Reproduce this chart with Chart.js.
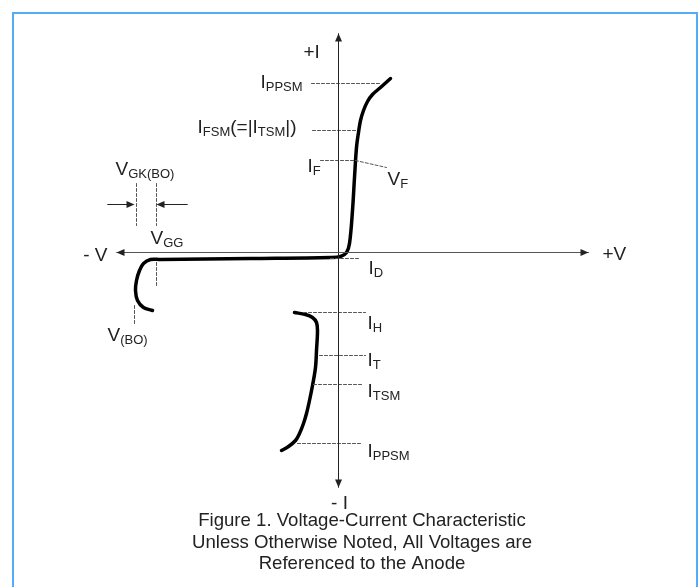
<!DOCTYPE html>
<html>
<head>
<meta charset="utf-8">
<script src="https://cdn.jsdelivr.net/npm/chart.js@4/dist/chart.umd.min.js"></script>
<style>
  body { margin: 0; background: #fff; }
  #wrap { position: relative; width: 700px; height: 587px; overflow: hidden; }
  #frame { position: absolute; left: 12px; top: 12px; width: 682px; height: 620px; border: 2px solid #55acf5; }
  canvas { position: absolute; left: 0; top: 0; }
</style>
</head>
<body>
<div id="wrap">
  <div id="frame"></div>
  <canvas id="ivChart" width="700" height="587"></canvas>
</div>
<script>
// V-I characteristic (arbitrary diagram units, origin at the axes crossing)
const onStateV = [-186, -195, -201, -203, -202, -199, -195, -188, -178, -88, -8, 2, 8, 11, 14, 16, 18, 20, 22, 25, 29, 34, 42, 52];
const onStateI = [-58, -55, -48, -38, -28, -18, -11, -7, -7, -6, -5, -4, 0, 9, 42, 75, 105, 120, 132, 142, 151, 158, 165, 174];

const holdV = [-44, -33, -26, -22, -21, -22, -23, -26, -29, -32, -35, -39, -43, -50, -57];
const holdI = [-60, -62, -65, -70, -78, -98, -115, -133, -148, -161, -171, -181, -188, -194, -198];

// current levels (dashed markers): name, level, from V, to V
const levelNames = ["I_PPSM+", "I_FSM", "I_F", "I_D", "I_H", "I_T", "I_TSM", "I_PPSM-"];
const levelI = [169, 122, 92, -6, -60, -103, -132, -191];
const levelFromV = [-27, -26, -18, -8, -35, -19, -25, -41];
const levelToV = [42, 19, 17, 22, 27, 27, 25, 23];

// voltage markers (dashed verticals): V, from I, to I
const markV = [-182, -204, -202, -182];
const markFromI = [-10, -53, 69, 69];
const markToI = [-33, -73, 27, 27];

// V_F leader
const leaderV = [17, 48];
const leaderI = [92, 85];

// axes extents
const axisV = [-222, 250];
const axisI = [-235, 219];

// labels
const labelTexts = ["+I", "- V", "+V", "- I", "I_{PPSM}", "I_{FSM}(=|I_{TSM}|)", "I_{F}", "V_{F}",
  "V_{GK(BO)}", "V_{GG}", "V_{(BO)}", "I_{D}", "I_{H}", "I_{T}", "I_{TSM}", "I_{PPSM}"];
const labelV = [-35, -231, 264, 1, -78, -141, -31, 49, -223, -188, -231, 30, 29, 29, 29, 29];
const labelI = [195, -8, -7, -256, 165, 120, 81, 68, 78, 9, -88, -21, -76, -113, -144, -204];
const labelAlign = ["left", "right", "left", "center", "left", "left", "left", "left",
  "left", "left", "left", "left", "left", "left", "left", "left"];

const captionLines = [
  "Figure 1. Voltage-Current Characteristic",
  "Unless Otherwise Noted, All Voltages are",
  "Referenced to the Anode"
];

const toPts = (vs, is) => vs.map((v, k) => ({ x: v, y: is[k] }));

const datasets = [];

// axes
datasets.push({ data: toPts(axisV, [0, 0]), borderColor: "#555", borderWidth: 1 });
datasets.push({ data: toPts([0, 0], axisI), borderColor: "#222", borderWidth: 1 });

// dashed levels
levelNames.forEach((name, k) => {
  datasets.push({
    data: toPts([levelFromV[k], levelToV[k]], [levelI[k], levelI[k]]),
    borderColor: "#555", borderWidth: 1, borderDash: [3, 2]
  });
});
datasets.push({ data: toPts(leaderV, leaderI), borderColor: "#555", borderWidth: 1, borderDash: [3, 2] });

markV.forEach((v, k) => {
  datasets.push({
    data: toPts([v, v], [markFromI[k], markToI[k]]),
    borderColor: "#555", borderWidth: 1, borderDash: [3, 2]
  });
});

// V_GK(BO) dimension arrows
datasets.push({ data: toPts([-231, -206], [48, 48]), borderColor: "#222", borderWidth: 1 });
datasets.push({ data: toPts([-151, -180], [48, 48]), borderColor: "#222", borderWidth: 1 });

// curves
datasets.push({ data: toPts(onStateV, onStateI), borderColor: "#000", borderWidth: 3.5, tension: 0.35 });
datasets.push({ data: toPts(holdV, holdI), borderColor: "#000", borderWidth: 3.5, tension: 0.35 });

datasets.forEach(d => {
  d.showLine = true;
  d.pointRadius = 0;
  d.fill = false;
  d.borderCapStyle = "round";
});

// arrowheads: tip (V, I) and direction in degrees (0 = right)
const arrowTips = [
  [axisV[1], 0, 0], [axisV[0], 0, 180], [0, axisI[1], 90], [0, axisI[0], 270],
  [-204, 48, 0], [-182, 48, 180]
];

function drawArrow(ctx, px, py, deg) {
  const a = deg * Math.PI / 180;
  const len = 8, half = 3.5;
  const bx = px - Math.cos(a) * len, by = py + Math.sin(a) * len;
  ctx.beginPath();
  ctx.moveTo(px, py);
  ctx.lineTo(bx - Math.sin(a) * half, by - Math.cos(a) * half);
  ctx.lineTo(bx + Math.sin(a) * half, by + Math.cos(a) * half);
  ctx.closePath();
  ctx.fill();
}

const FONT = "'Liberation Sans', Arial, sans-serif";

function drawLabel(ctx, text, px, py, align) {
  const parts = [];
  const re = /_\{([^}]*)\}/g;
  let last = 0, m;
  while ((m = re.exec(text)) !== null) {
    if (m.index > last) parts.push([text.slice(last, m.index), false]);
    parts.push([m[1], true]);
    last = re.lastIndex;
  }
  if (last < text.length) parts.push([text.slice(last), false]);

  let total = 0;
  parts.forEach(p => {
    ctx.font = (p[1] ? "13px " : "19px ") + FONT;
    total += ctx.measureText(p[0]).width;
  });
  let x = px;
  if (align === "right") x = px - total;
  if (align === "center") x = px - total / 2;
  ctx.textAlign = "left";
  ctx.textBaseline = "alphabetic";
  parts.forEach(p => {
    ctx.font = (p[1] ? "13px " : "19px ") + FONT;
    ctx.fillText(p[0], x, py + (p[1] ? 3 : 0));
    x += ctx.measureText(p[0]).width;
  });
}

const annotate = {
  id: "annotate",
  afterDatasetsDraw(chart) {
    const { ctx, scales: { x, y } } = chart;
    ctx.save();
    ctx.fillStyle = "#222";
    arrowTips.forEach(t => drawArrow(ctx, x.getPixelForValue(t[0]), y.getPixelForValue(t[1]), t[2]));

    labelTexts.forEach((txt, k) => {
      drawLabel(ctx, txt, x.getPixelForValue(labelV[k]), y.getPixelForValue(labelI[k]), labelAlign[k]);
    });

    // caption under the plot
    ctx.font = "18.6px " + FONT;
    ctx.textAlign = "center";
    ctx.textBaseline = "alphabetic";
    captionLines.forEach((line, k) => ctx.fillText(line, 362, 526 + k * 21.5));
    ctx.restore();
  }
};

const ctx = document.getElementById("ivChart").getContext("2d");
new Chart(ctx, {
  type: "scatter",
  data: { datasets },
  options: {
    responsive: false,
    animation: false,
    devicePixelRatio: 1,
    layout: { padding: 0 },
    plugins: { legend: { display: false }, tooltip: { enabled: false } },
    scales: {
      x: { type: "linear", min: -338.5, max: 361.5, display: false },
      y: { type: "linear", min: -334.5, max: 252.5, display: false }
    }
  },
  plugins: [annotate]
});
</script>
</body>
</html>
